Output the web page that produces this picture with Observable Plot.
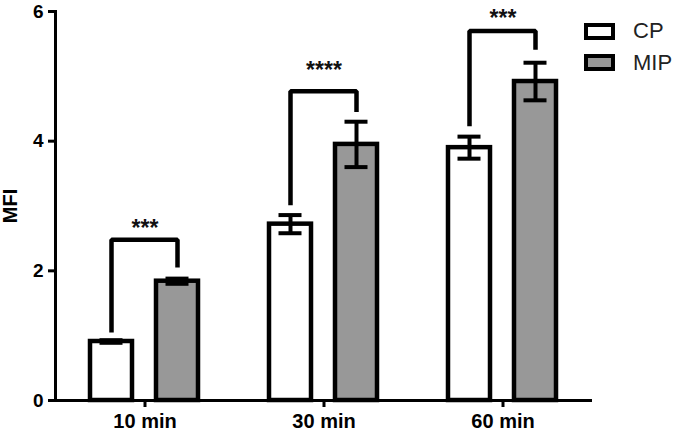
<!DOCTYPE html>
<html><head><meta charset="utf-8">
<script src="https://cdn.jsdelivr.net/npm/d3@7"></script>
<script src="https://cdn.jsdelivr.net/npm/@observablehq/plot@0.6"></script>
<style>
body{margin:0;background:#fff;font-family:"Liberation Sans",Arial,sans-serif}
#wrap{position:relative;width:675px;height:431px}
.sw{position:absolute;left:584px;width:31px;height:17px;box-sizing:border-box;border:4.5px solid #000}
.lt{position:absolute;left:633px;font-size:22px;line-height:22px;color:#222}
[aria-label="y-axis label"] text{font-size:20px;font-weight:bold}
</style></head><body><div id="wrap"></div>
<script>
const times = ["10 min", "30 min", "60 min"];
const groups = ["CP", "MIP"];
const cpMean = [0.91, 2.72, 3.90];
const cpErr = [0.02, 0.14, 0.17];
const mipMean = [1.84, 3.95, 4.92];
const mipErr = [0.04, 0.35, 0.29];
const bracketTop = [2.48, 4.77, 5.70];
const bracketLegCP = [1.05, 3.01, 4.23];
const bracketLegMIP = [2.05, 4.45, 5.41];
const starLabels = ["***", "****", "***"];
const starY = [2.75, 5.18, 5.99];
const yTicks = [0, 2, 4, 6];
const colors = ["#ffffff", "#989898"];

const bars = times.flatMap((t, i) => [
  {time: t, group: "CP", value: cpMean[i], err: cpErr[i]},
  {time: t, group: "MIP", value: mipMean[i], err: mipErr[i]}
]);
const bracket = times.flatMap((t, i) => [
  {time: t, group: "CP", y: bracketLegCP[i]},
  {time: t, group: "CP", y: bracketTop[i]},
  {time: t, group: "MIP", y: bracketTop[i]},
  {time: t, group: "MIP", y: bracketLegMIP[i]}
]);
const stars = times.map((t, i) => ({time: t, label: starLabels[i], y: starY[i]}));

const chart = Plot.plot({
  width: 675, height: 431,
  marginLeft: 55, marginRight: 83, marginTop: 11, marginBottom: 31,
  style: {fontFamily: "Liberation Sans, Arial, sans-serif", background: "#fff", color: "#000"},
  fx: {domain: times, padding: 0, label: null},
  x: {domain: groups, paddingInner: 0.36, paddingOuter: 0.516, axis: null},
  y: {domain: [0, 6], axis: null},
  color: {domain: groups, range: colors},
  marks: [
    Plot.barY(bars, {fx: "time", x: "group", y: "value", fill: "group", stroke: "#000", strokeWidth: 4.5}),
    Plot.ruleX(bars, {fx: "time", x: "group", y1: d => d.value - d.err, y2: d => d.value + d.err, stroke: "#000", strokeWidth: 4}),
    Plot.tickY(bars, {fx: "time", x: "group", y: d => d.value + d.err, stroke: "#000", strokeWidth: 4, inset: 9.5}),
    Plot.tickY(bars, {fx: "time", x: "group", y: d => d.value - d.err, stroke: "#000", strokeWidth: 4, inset: 9.5}),
    Plot.line(bracket, {fx: "time", x: "group", y: "y", z: "time", stroke: "#000", strokeWidth: 4.5, strokeLinejoin: "miter", strokeLinecap: "butt", curve: "linear"}),
    Plot.text(stars, {fx: "time", y: "y", text: "label", fontSize: 23, fontWeight: "bold", fill: "#111", dy: 6}),
    Plot.ruleY([0], {stroke: "#000", strokeWidth: 3}),
    Plot.frame({anchor: "left", facetAnchor: "left", stroke: "#000", strokeWidth: 3}),
    Plot.axisY({ticks: yTicks, tickFormat: d3.format("d"), tickSize: 7, tickPadding: 5, fontSize: 19, fontWeight: "bold", stroke: "#000", strokeWidth: 3, label: "MFI", labelAnchor: "center", labelArrow: "none", labelOffset: 53}),
    Plot.axisFx({anchor: "bottom", tickSize: 7, tickPadding: 6, fontSize: 20, fontWeight: "bold", stroke: "#000", strokeWidth: 3, label: null})
  ]
});
const wrap = document.getElementById("wrap");
wrap.appendChild(chart);
groups.forEach((g, i) => {
  const sw = document.createElement("div");
  sw.className = "sw";
  sw.style.top = (23 + i * 31) + "px";
  sw.style.background = colors[i];
  wrap.appendChild(sw);
  const lt = document.createElement("div");
  lt.className = "lt";
  lt.style.top = (19.5 + i * 32) + "px";
  lt.textContent = g;
  wrap.appendChild(lt);
});
</script></body></html>
